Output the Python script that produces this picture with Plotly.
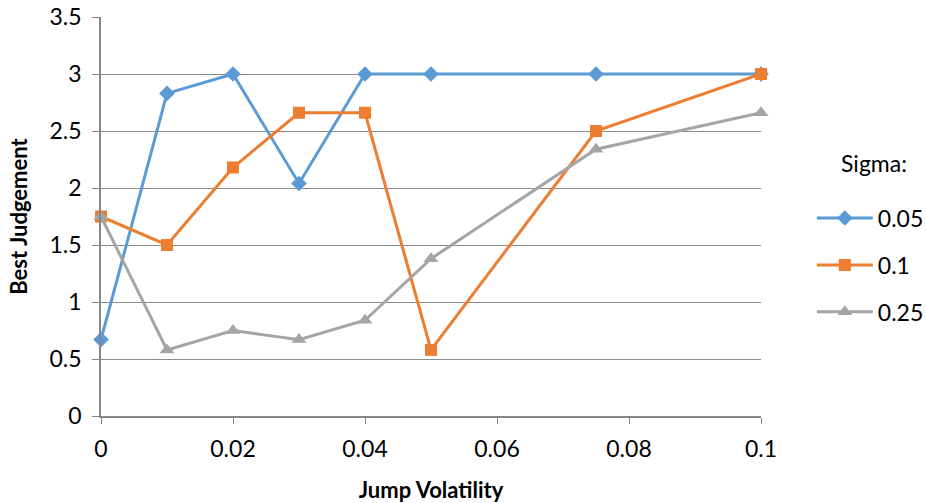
import plotly.graph_objects as go

x_vals = [0, 0.01, 0.02, 0.03, 0.04, 0.05, 0.075, 0.1]
sigma_005 = [0.67, 2.83, 3.0, 2.04, 3.0, 3.0, 3.0, 3.0]
sigma_01 = [1.75, 1.5, 2.18, 2.66, 2.66, 0.58, 2.5, 3.0]
sigma_025 = [1.75, 0.58, 0.75, 0.67, 0.84, 1.38, 2.34, 2.66]
series_names = ["0.05", "0.1", "0.25"]
x_ticks = [0, 0.02, 0.04, 0.06, 0.08, 0.1]
x_tick_labels = ["0", "0.02", "0.04", "0.06", "0.08", "0.1"]
y_ticks = [0, 0.5, 1, 1.5, 2, 2.5, 3, 3.5]
y_tick_labels = ["0", "0.5", "1", "1.5", "2", "2.5", "3", "3.5"]

colors = ["#5B9BD5", "#ED7D31", "#A5A5A5"]
symbols = ["diamond", "square", "triangle-up"]
sizes = [12, 12, 13]

fig = go.Figure()
for i, (name, ys) in enumerate(zip(series_names, [sigma_005, sigma_01, sigma_025])):
    fig.add_trace(go.Scatter(
        x=x_vals, y=ys, name=name, mode="lines+markers",
        line=dict(color=colors[i], width=3),
        marker=dict(symbol=symbols[i], size=sizes[i], color=colors[i]),
        cliponaxis=False, legendgroup=name,
    ))

font_family = "Lato, 'Open Sans', sans-serif"
fig.update_layout(
    width=926, height=503,
    margin=dict(l=101, r=165, t=17, b=87, autoexpand=False),
    paper_bgcolor="white", plot_bgcolor="white",
    font=dict(family=font_family, size=23, color="#000000"),
    showlegend=True,
    legend=dict(
        x=1.077, y=0.55, xanchor="left", yanchor="top",
        font=dict(size=23), tracegroupgap=14, itemwidth=56,
        bgcolor="rgba(0,0,0,0)",
    ),
    annotations=[dict(
        text="Sigma:", x=1.171, y=0.634, xref="paper", yref="paper",
        xanchor="center", yanchor="middle", showarrow=False,
        font=dict(size=23),
    )],
    xaxis=dict(
        range=[0, 0.1], tickvals=x_ticks, ticktext=x_tick_labels,
        showgrid=False, zeroline=False,
        showline=True, linecolor="#868686", linewidth=1.5,
        ticks="outside", ticklen=6, tickcolor="#868686",
        ticklabelstandoff=6,
        title=dict(text="<b>Jump Volatility</b>", font=dict(size=22), standoff=22),
    ),
    yaxis=dict(
        range=[0, 3.5], tickvals=y_ticks, ticktext=y_tick_labels,
        showgrid=True, gridcolor="#8C8C8C", gridwidth=1, zeroline=False,
        showline=True, linecolor="#868686", linewidth=1.5,
        ticks="outside", ticklen=7, tickcolor="#868686",
        ticklabelstandoff=6,
        title=dict(text="<b>Best Judgement</b>", font=dict(size=22), standoff=16),
    ),
)

fig.write_html("out.html")
